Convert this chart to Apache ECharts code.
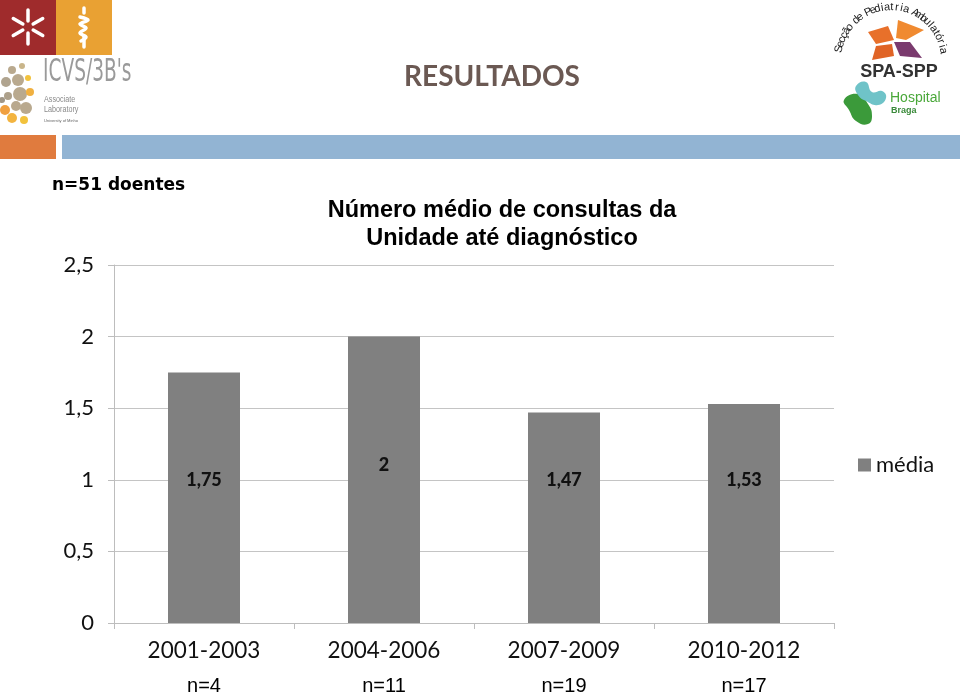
<!DOCTYPE html>
<html>
<head>
<meta charset="utf-8">
<script src="https://cdn.jsdelivr.net/npm/echarts@6/dist/echarts.min.js"></script>
<style>html,body{margin:0;padding:0;background:#fff;}#c{width:960px;height:696px;}</style>
</head>
<body>
<div id="c"></div>
<script>
const categories = ['2001-2003', '2004-2006', '2007-2009', '2010-2012'];
const nCounts = ['n=4', 'n=11', 'n=19', 'n=17'];
const values = [1.75, 2, 1.47, 1.53];
const seriesName = 'média';
const yMin = 0, yMax = 2.5, yStep = 0.5;

const comma = v => String(v).replace('.', ',');

// decorative header pieces
const graphics = [];
// UMinho squares
graphics.push({type:'rect', shape:{x:0,y:0,width:56,height:55}, style:{fill:'#9f2b2c'}});
graphics.push({type:'rect', shape:{x:56,y:0,width:56,height:55}, style:{fill:'#e9a133'}});
[-90, 90, -30, 30, 150, 210].forEach(a => {
  const t = a * Math.PI / 180;
  const cx = 28, cy = 27;
  graphics.push({type:'line', shape:{x1:cx+Math.cos(t)*6, y1:cy+Math.sin(t)*6, x2:cx+Math.cos(t)*17, y2:cy+Math.sin(t)*17},
    style:{stroke:'#fff', lineWidth:3.5, lineCap:'round'}});
});
graphics.push({type:'line', shape:{x1:84,y1:8,x2:84,y2:13}, style:{stroke:'#fff', lineWidth:3.5, lineCap:'round'}});
graphics.push({type:'polyline', shape:{points:[[80,17],[88,20],[80,24],[86,28],[80,33],[86,37],[81,41]], smooth:0.4},
  style:{stroke:'#fff', fill:null, lineWidth:3.5, lineCap:'round'}});
graphics.push({type:'line', shape:{x1:84,y1:36,x2:84,y2:47}, style:{stroke:'#fff', lineWidth:3.5, lineCap:'round'}});
// ICVS dots
[[12,70,4,'#b9a98e'],[22,66,3,'#c9b58a'],[6,82,5,'#b0a48f'],[18,80,6,'#b9a98e'],[28,78,3,'#f2c23c'],
 [8,96,4,'#ada08a'],[20,94,7,'#b9a98e'],[30,92,4,'#f0b040'],[5,110,5,'#f0a040'],[16,106,5,'#b9a98e'],
 [26,108,6,'#b9a98e'],[12,118,5,'#f3b440'],[24,120,4,'#f2c23c'],[2,100,3,'#a09686']].forEach(d => {
  graphics.push({type:'circle', shape:{cx:d[0], cy:d[1], r:d[2]}, style:{fill:d[3]}});
});
graphics.push({type:'text', x:43, y:57, scaleX:0.58, style:{text:"ICVS/3B's", fontFamily:'DejaVu Sans, sans-serif', fontWeight:'normal', fontSize:32, fill:'#9a9a9a'}});
graphics.push({type:'text', x:44, y:95, scaleX:0.8, style:{text:'Associate\nLaboratory', fontFamily:'Liberation Sans, sans-serif', fontSize:9, lineHeight:10, fill:'#8a8a8a'}});
graphics.push({type:'text', left:44, top:119, style:{text:'University of Minho', fontFamily:'Liberation Sans', fontSize:4, fill:'#666'}});
// header bands
graphics.push({type:'rect', shape:{x:0,y:135,width:56,height:24}, style:{fill:'#e07b3e'}});
graphics.push({type:'rect', shape:{x:62,y:135,width:898,height:24}, style:{fill:'#92b4d3'}});
// RESULTADOS
graphics.push({type:'text', x:492, y:77, style:{text:'RESULTADOS', align:'center', verticalAlign:'middle', fontFamily:'Lato, Noto Sans, sans-serif', fontWeight:'bold', fontSize:28, fill:'#6b5953'}});
// n=51 doentes
graphics.push({type:'text', x:52, y:186, style:{text:'n=51 doentes', verticalAlign:'middle', fontFamily:'DejaVu Sans, sans-serif', fontWeight:'bold', fontSize:17, fill:'#000'}});
// SPA-SPP curved text
(function(){
  const txt = 'Secção de Pediatria Ambulatória';
  const cx = 891, cy = 60, r = 53;
  const a0 = 168, a1 = 10;
  for (let i = 0; i < txt.length; i++) {
    const th = (a0 - i * (a0 - a1) / (txt.length - 1)) * Math.PI / 180;
    graphics.push({type:'text', x: cx + r * Math.cos(th), y: cy - r * Math.sin(th), rotation: th - Math.PI/2,
      style:{text: txt[i], align:'center', verticalAlign:'middle', fontFamily:'Liberation Sans', fontSize:11, fill:'#222'}});
  }
})();
graphics.push({type:'polygon', shape:{points:[[868,32],[888,26],[894,40],[876,44]]}, style:{fill:'#e8702a'}});
graphics.push({type:'polygon', shape:{points:[[898,20],[924,30],[906,40],[896,38]]}, style:{fill:'#f08a30'}});
graphics.push({type:'polygon', shape:{points:[[894,42],[910,42],[922,58],[900,56]]}, style:{fill:'#7a3a6e'}});
graphics.push({type:'polygon', shape:{points:[[876,46],[892,44],[894,56],[872,60]]}, style:{fill:'#e06426'}});
graphics.push({type:'text', x:899, y:72, style:{text:'SPA-SPP', align:'center', verticalAlign:'middle', fontFamily:'Liberation Sans', fontWeight:'bold', fontSize:18, fill:'#333'}});
// Hospital Braga
graphics.push({type:'polygon', shape:{points:[[844,100],[858,94],[868,104],[872,116],[868,124],[856,121],[849,110]], smooth:0.5}, style:{fill:'#3b9a3a'}});
graphics.push({type:'polygon', shape:{points:[[856,86],[866,82],[872,92],[882,91],[886,98],[878,105],[866,101],[858,95]], smooth:0.5}, style:{fill:'#6fc3c8'}});
graphics.push({type:'text', left:890, top:91, style:{text:'Hospital', fontFamily:'Liberation Sans', fontSize:14, fill:'#4aa83a'}});
graphics.push({type:'text', left:891, top:106, style:{text:'Braga', fontFamily:'Liberation Sans', fontWeight:'bold', fontSize:9, fill:'#3a8a3a'}});

const option = {
  animation: false,
  backgroundColor: '#fff',
  title: {
    text: 'Número médio de consultas da\nUnidade até diagnóstico',
    left: 497, top: 192, textAlign: 'center',
    textStyle: {fontFamily:'Liberation Sans, Arial, sans-serif', fontWeight:'bold', fontSize:23.5, lineHeight:28, color:'#000'}
  },
  legend: {
    data: [seriesName], left: 853, top: 449, icon: 'rect', itemWidth: 13, itemHeight: 13, itemGap: 6,
    textStyle: {fontFamily:'Lato, sans-serif', fontSize:22, color:'#111'}
  },
  grid: {left: 114, right: 126, top: 265, bottom: 73, containLabel: false},
  xAxis: {
    type: 'category', data: categories,
    axisLine: {lineStyle: {color: '#bdbdbd'}},
    axisTick: {show: true, length: 6, lineStyle: {color: '#bdbdbd'}},
    axisLabel: {
      margin: 14, interval: 0,
      formatter: (v, i) => '{a|' + v + '}\n{b|' + nCounts[i] + '}',
      rich: {
        a: {fontFamily:'Lato, sans-serif', fontSize:22.5, lineHeight:28, color:'#111'},
        b: {fontFamily:'Liberation Sans, Arial, sans-serif', fontSize:20, lineHeight:42, color:'#000'}
      }
    }
  },
  yAxis: {
    type: 'value', min: yMin, max: yMax, interval: yStep,
    axisLine: {show: true, lineStyle: {color: '#bdbdbd'}},
    axisTick: {show: true, length: 6, lineStyle: {color: '#bdbdbd'}},
    splitLine: {lineStyle: {color: '#c4c4c4'}},
    axisLabel: {margin: 20, formatter: v => comma(v), fontFamily:'Lato, sans-serif', fontSize:22, color:'#111'}
  },
  series: [{
    name: seriesName, type: 'bar', barWidth: '40%',
    itemStyle: {color: '#808080'},
    label: {show: true, position: 'insideBottom', distance: 134, formatter: p => comma(p.value),
      fontFamily:'Lato, sans-serif', fontWeight:900, fontSize:18, color:'#111'},
    data: values.map((v, i) => ({value: v, label: {distance: v >= 2 ? 149 : 134}}))
  }],
  graphic: graphics
};
echarts.init(document.getElementById('c')).setOption(option);
</script>
</body>
</html>
